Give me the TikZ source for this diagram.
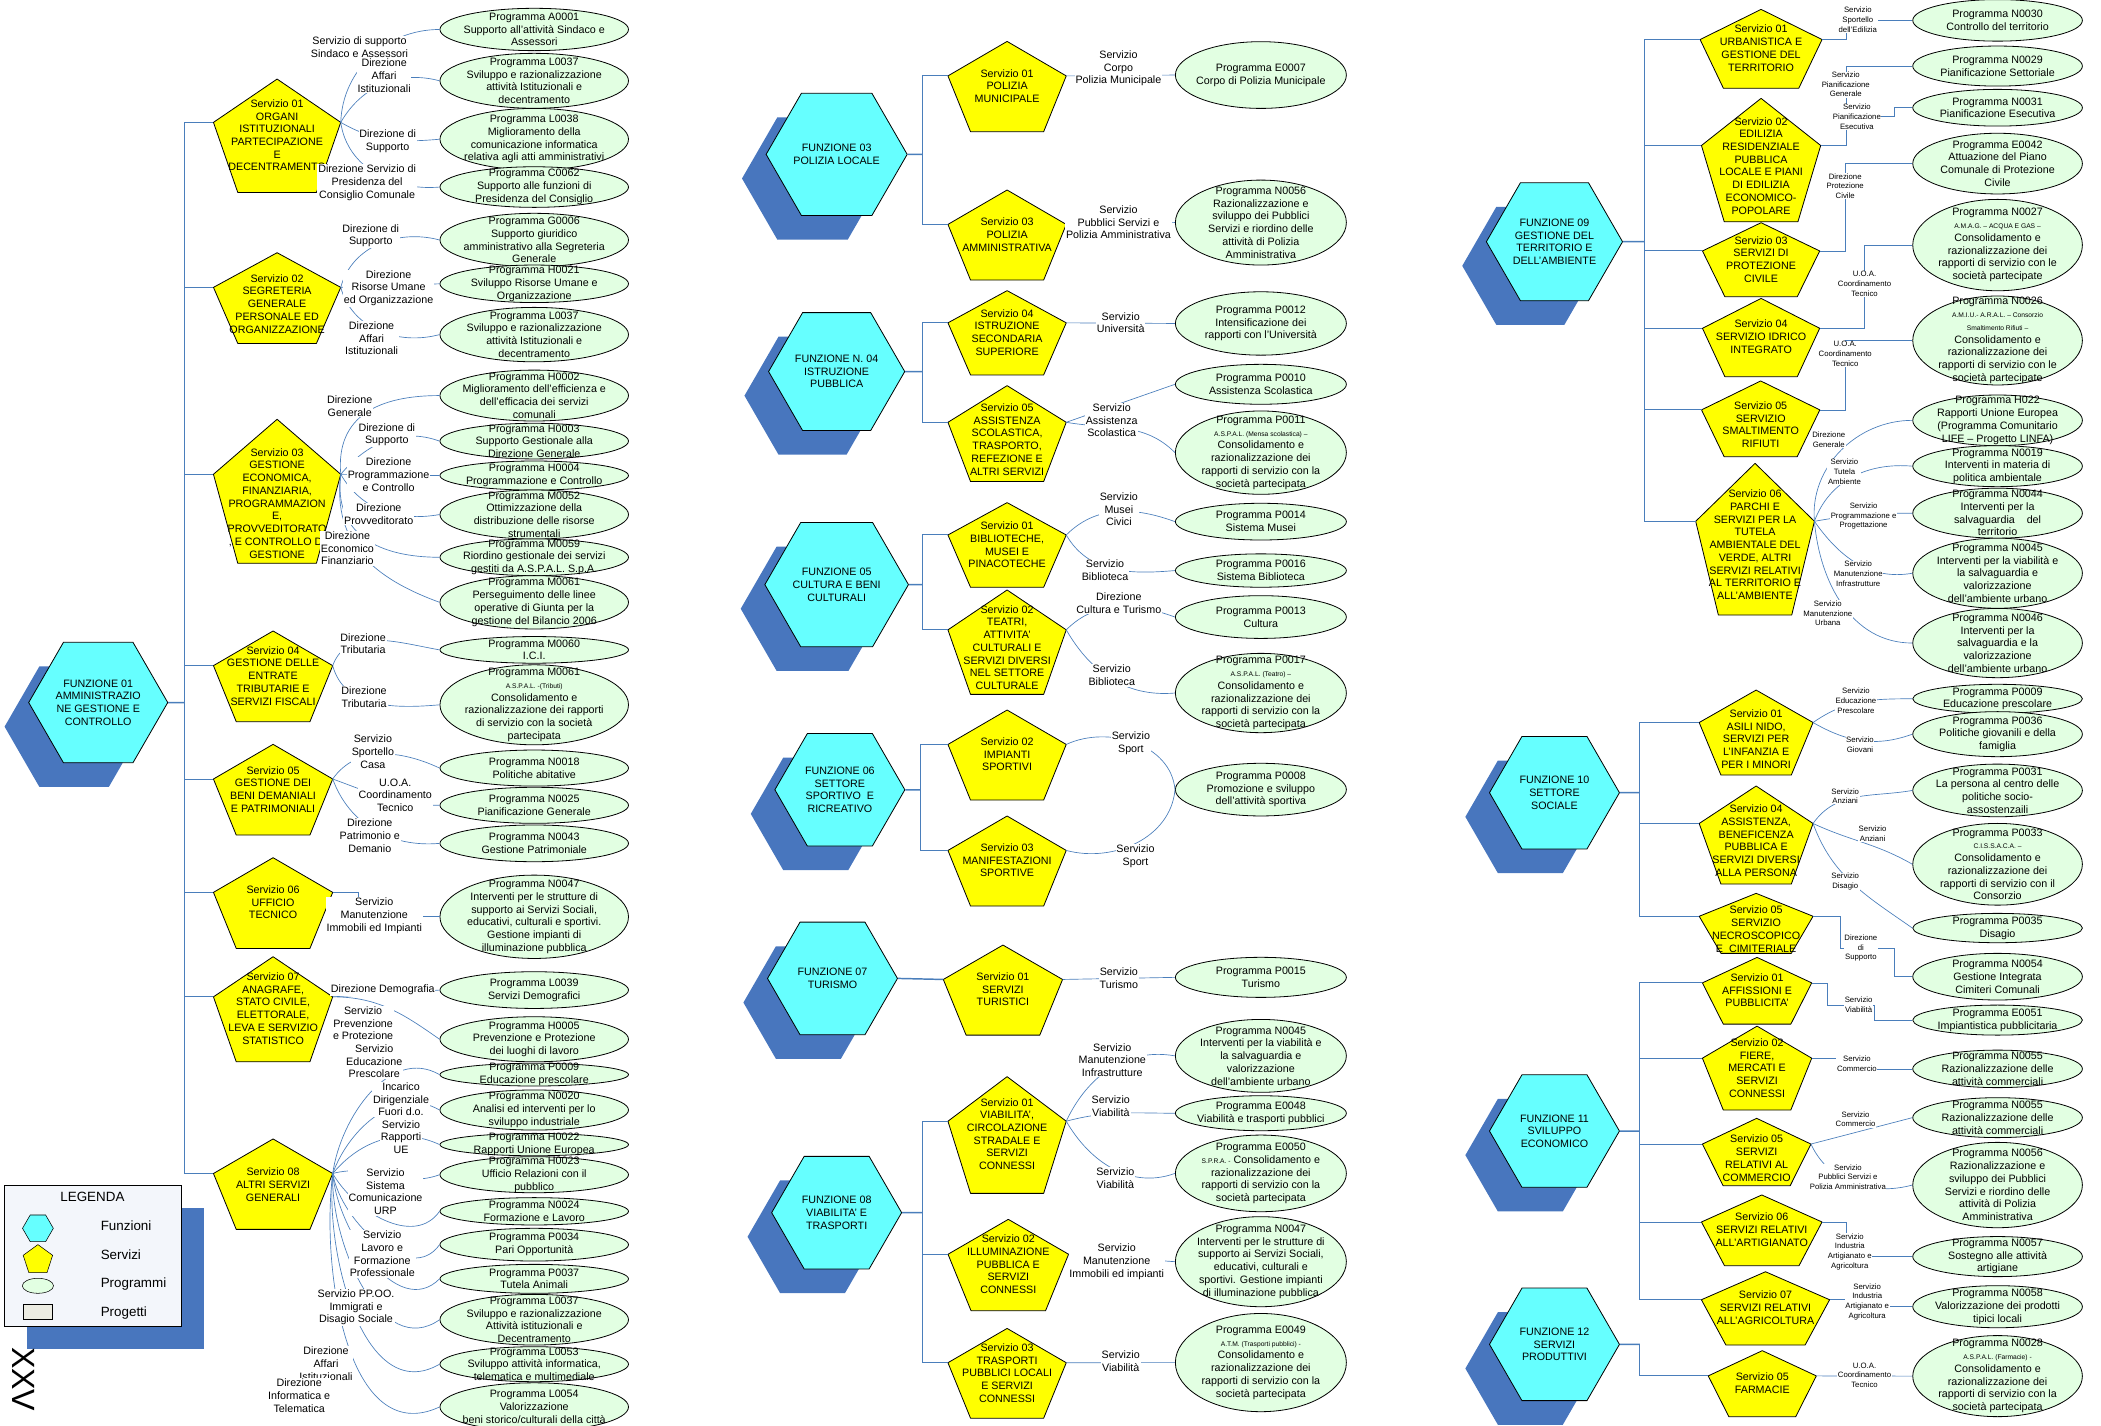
\documentclass[tikz,border=0pt]{standalone}
\usepackage{fontspec}
\setmainfont{Liberation Sans}
\usetikzlibrary{shapes.geometric,shadows}

\definecolor{giallo}{RGB}{255,255,0}
\definecolor{ciano}{RGB}{102,255,255}
\definecolor{verdino}{RGB}{226,255,226}
\definecolor{linea}{RGB}{74,126,187}
\definecolor{ombra}{RGB}{72,118,190}
\definecolor{legfondo}{RGB}{243,246,251}
\definecolor{progetto}{RGB}{236,236,226}

\newcommand{\piccolo}{\fontsize{5}{6}\selectfont}
%Shape: Pentagon (nome, x centro, y vertice, larghezza, altezza, y testo, testo)
\newcommand{\servizio}[7]{%
	\draw[servbox] (#2,#3) -- ++({#4/2},{0.382*#5}) coordinate (#1-r) -- ++({-0.191*#4},{0.618*#5}) -- ++({-0.618*#4},0) -- ++({-0.191*#4},{-0.618*#5}) coordinate (#1-l) -- cycle ;
	\node[servtext] (#1) at (#2,#6) {#7};}

\begin{document}
\begin{tikzpicture}[x=1pt,y=-1pt,
	servbox/.style={draw=black,fill=giallo,line width=0.6pt,line join=round},
	servtext/.style={align=center,inner sep=0pt,font=\fontsize{8}{9.5}\selectfont},
	funzione/.style={regular polygon,regular polygon sides=6,minimum size=97pt,inner sep=0pt,draw=black,fill=ciano,line width=0.6pt,align=center,font=\fontsize{8}{9.5}\selectfont,drop shadow={shadow xshift=-18pt,shadow yshift=-18pt,fill=ombra,opacity=1}},
	prog/.style={ellipse,draw=black,fill=verdino,line width=0.6pt,inner sep=0pt},
	progA/.style={prog,minimum width=140.7pt},
	progB/.style={prog,minimum width=127.6pt},
	progC/.style={prog,minimum width=126.6pt},
	progtext/.style={align=center,inner sep=0pt,font=\fontsize{8}{9.5}\selectfont},
	testo/.style={label={[progtext]center:{#1}}},
	dir/.style={fill=white,align=center,inner sep=0.6pt,font=\fontsize{8}{9.5}\selectfont},
	dirpic/.style={fill=white,align=center,inner sep=0.4pt,font=\fontsize{5.8}{7.2}\selectfont},
	conn/.style={draw=linea,line width=0.5pt},
	tree/.style={draw=linea,line width=0.7pt},
	hexline/.style={draw=linea,line width=1.1pt},
	legtext/.style={anchor=west,inner sep=0pt,font=\fontsize{10}{12}\selectfont},
]
\useasboundingbox (0,0) rectangle (1568,1063.5);

% ---------------- Funzioni
\node[funzione] (f01) at (73.3,524.3) {FUNZIONE 01\\AMMINISTRAZIO\\NE GESTIONE E\\CONTROLLO};
\node[funzione] (f03) at (624.4,115.2) {FUNZIONE 03\\POLIZIA LOCALE};
\node[funzione] (f04) at (624.4,277.3) {FUNZIONE N. 04\\ISTRUZIONE\\PUBBLICA};
\node[funzione] (f05) at (624.4,436.3) {FUNZIONE 05\\CULTURA E BENI\\CULTURALI};
\node[funzione] (f06) at (626.8,589.4) {FUNZIONE 06\\SETTORE\\SPORTIVO\ \ E\\RICREATIVO};
\node[funzione] (f07) at (621.3,730.2) {FUNZIONE 07\\TURISMO};
\node[funzione] (f08) at (624.4,905) {FUNZIONE 08\\VIABILITA' E\\TRASPORTI};
\node[funzione] (f09) at (1160.1,180.4) {FUNZIONE 09\\GESTIONE DEL\\TERRITORIO E\\DELL'AMBIENTE};
\node[funzione] (f10) at (1160.1,591.6) {FUNZIONE 10\\SETTORE\\SOCIALE};
\node[funzione] (f11) at (1160.1,844.1) {FUNZIONE 11\\SVILUPPO\\ECONOMICO};
\node[funzione] (f12) at (1160.1,1003.3) {FUNZIONE 12\\SERVIZI\\PRODUTTIVI};

% ---------------- Servizi
\servizio{s0101}{206.8}{59}{95}{84.6}{101}{Servizio 01\\ORGANI\\ISTITUZIONALI\\PARTECIPAZIONE\\E\\DECENTRAMENTO}
\servizio{s0102}{206.8}{188.6}{95}{67.7}{226.7}{Servizio 02\\SEGRETERIA\\GENERALE\\PERSONALE ED\\ORGANIZZAZIONE}
\servizio{s0103}{206.8}{312.9}{95}{107.5}{375.6}{Servizio 03\\GESTIONE\\ECONOMICA,\\FINANZIARIA,\\PROGRAMMAZION\\E,\\PROVVEDITORATO\\, E CONTROLLO DI\\GESTIONE}
\servizio{s0104}{203.8}{470.9}{89}{67.7}{504.3}{Servizio 04\\GESTIONE DELLE\\ENTRATE\\TRIBUTARIE E\\SERVIZI FISCALI}
\servizio{s0105}{203.8}{555.5}{89}{67.7}{589.1}{Servizio 05\\GESTIONE DEI\\BENI DEMANIALI\\E PATRIMONIALI}
\servizio{s0106}{203.8}{640.1}{89}{67.7}{673.3}{Servizio 06\\UFFICIO\\TECNICO}
\servizio{s0107}{203.8}{714}{89}{78.4}{752.6}{Servizio 07\\ANAGRAFE,\\STATO CIVILE,\\ELETTORALE,\\LEVA E SERVIZIO\\STATISTICO}
\servizio{s0108}{203.8}{850}{89}{67.5}{884}{Servizio 08\\ALTRI SERVIZI\\GENERALI}

\servizio{s0301}{751.6}{30.9}{88.3}{67.4}{64.3}{Servizio 01\\POLIZIA\\MUNICIPALE}
\servizio{s0303}{751.6}{141.8}{88.3}{67.2}{175.1}{Servizio 03\\POLIZIA\\AMMINISTRATIVA}
\servizio{s0404}{751.6}{216.9}{88.3}{62.9}{248.1}{Servizio 04\\ISTRUZIONE\\SECONDARIA\\SUPERIORE}
\servizio{s0405}{751.6}{287.8}{88.3}{71.6}{327.9}{Servizio 05\\ASSISTENZA\\SCOLASTICA,\\TRASPORTO,\\REFEZIONE E\\ALTRI SERVIZI}
\servizio{s0501}{751.6}{375.1}{88.3}{63.2}{406.6}{Servizio 01\\BIBLIOTECHE,\\MUSEI E\\PINACOTECHE}
\servizio{s0502}{751.6}{440.3}{88.3}{77.9}{483.3}{Servizio 02\\TEATRI,\\ATTIVITA'\\CULTURALI E\\SERVIZI DIVERSI\\NEL SETTORE\\CULTURALE}
\servizio{s0602}{751.6}{529.9}{88.3}{67.2}{563}{Servizio 02\\IMPIANTI\\SPORTIVI}
\servizio{s0603}{751.6}{609}{88.3}{67.2}{642.1}{Servizio 03\\MANIFESTAZIONI\\SPORTIVE}
\servizio{s0701}{748.5}{705.3}{89}{67.2}{738.3}{Servizio 01\\SERVIZI\\TURISTICI}
\servizio{s0801}{751.6}{803.5}{88.3}{87.1}{846.3}{Servizio 01\\VIABILITA',\\CIRCOLAZIONE\\STRADALE E\\SERVIZI\\CONNESSI}
\servizio{s0802}{752.5}{910}{90}{68.2}{943.6}{Servizio 02\\ILLUMINAZIONE\\PUBBLICA E\\SERVIZI\\CONNESSI}
\servizio{s0803}{751.6}{991.4}{88.3}{67}{1024.7}{Servizio 03\\TRASPORTI\\PUBBLICI LOCALI\\E SERVIZI\\CONNESSI}

\servizio{s0901}{1314.3}{7}{91}{58.9}{36}{Servizio 01\\URBANISTICA E\\GESTIONE DEL\\TERRITORIO}
\servizio{s0902}{1314.3}{73.4}{89}{92.1}{123.7}{Servizio 02\\EDILIZIA\\RESIDENZIALE\\PUBBLICA\\LOCALE E PIANI\\DI EDILIZIA\\ECONOMICO-\\POPOLARE}
\servizio{s0903}{1314.3}{166.2}{87.5}{55.2}{193.6}{Servizio 03\\SERVIZI DI\\PROTEZIONE\\CIVILE}
\servizio{s0904}{1314.3}{222.7}{87.5}{58.4}{251.2}{Servizio 04\\SERVIZIO IDRICO\\INTEGRATO}
\servizio{s0905}{1314}{284.3}{88.3}{56.5}{317}{Servizio 05\\SERVIZIO\\SMALTIMENTO\\RIFIUTI}
\servizio{s0906}{1309.8}{345.8}{88.6}{113.2}{406.5}{Servizio 06\\PARCHI E\\SERVIZI PER LA\\TUTELA\\AMBIENTALE DEL\\VERDE, ALTRI\\SERVIZI RELATIVI\\AL TERRITORIO E\\ALL'AMBIENTE}
\servizio{s1001}{1310.6}{515}{85}{63.4}{551.5}{Servizio 01\\ASILI NIDO,\\SERVIZI PER\\L'INFANZIA E\\PER I MINORI}
\servizio{s1004}{1310.6}{586.6}{85}{73.2}{627.4}{Servizio 04\\ASSISTENZA,\\BENEFICENZA\\PUBBLICA E\\SERVIZI DIVERSI\\ALLA PERSONA}
\servizio{s1005}{1310.6}{666.7}{85}{44.8}{693.4}{Servizio 05\\SERVIZIO\\NECROSCOPICO\\E\ \ CIMITERIALE}
\servizio{s1101}{1311.3}{714.5}{81.6}{49.8}{739}{Servizio 01\\AFFISSIONI E\\PUBBLICITA'}
\servizio{s1102}{1311.3}{765.8}{81.6}{62.6}{797}{Servizio 02\\FIERE,\\MERCATI E\\SERVIZI\\CONNESSI}
\servizio{s1105}{1311}{834.6}{81}{50.3}{864.4}{Servizio 05\\SERVIZI\\RELATIVI AL\\COMMERCIO}
\servizio{s1106}{1314.8}{891.8}{90}{52.8}{917.7}{Servizio 06\\SERVIZI RELATIVI\\ALL'ARTIGIANATO}
\servizio{s1107}{1317.6}{949.1}{95.7}{54.7}{975.8}{Servizio 07\\SERVIZI RELATIVI\\ALL'AGRICOLTURA}
\servizio{s1205}{1315.2}{1008}{80.7}{49.3}{1032.2}{Servizio 05\\FARMACIE}

% ---------------- Albero
\coordinate (t01) at (137.7,524.3);
\coordinate (t03) at (688.1,115.2);
\coordinate (t04) at (688.1,277.3);
\coordinate (t05) at (688.1,436.3);
\coordinate (t06) at (686.7,589.4);
\coordinate (t08) at (688.1,905);
\coordinate (t09) at (1227.5,180.4);
\coordinate (t10) at (1223.8,591.6);
\coordinate (t11) at (1223.8,844.1);
\coordinate (t12) at (1223.8,1003.3);
\foreach \f/\t in {f01/t01,f03/t03,f04/t04,f05/t05,f06/t06,f08/t08,f09/t09,f10/t10,f11/t11,f12/t12}
	\draw[hexline] (\f.east) -- (\t);
\draw[hexline] (f07.east) -- (s0701-l);
\foreach \s in {s0101,s0102,s0103,s0104,s0105,s0106,s0107,s0108}
	\draw[tree] (t01) |- (\s-l);
\foreach \s in {s0301,s0303} \draw[tree] (t03) |- (\s-l);
\foreach \s in {s0404,s0405} \draw[tree] (t04) |- (\s-l);
\foreach \s in {s0501,s0502} \draw[tree] (t05) |- (\s-l);
\foreach \s in {s0602,s0603} \draw[tree] (t06) |- (\s-l);
\foreach \s in {s0801,s0802,s0803} \draw[tree] (t08) |- (\s-l);
\foreach \s in {s0901,s0902,s0903,s0904,s0905,s0906} \draw[tree] (t09) |- (\s-l);
\foreach \s in {s1001,s1004,s1005} \draw[tree] (t10) |- (\s-l);
\foreach \s in {s1101,s1102,s1105,s1106,s1107} \draw[tree] (t11) |- (\s-l);
\draw[tree] (t12) |- (s1205-l);

% ---------------- Programmi (colonna 1)
\node[progA,minimum height=31.6pt,testo={Programma A0001\\Supporto all'attività Sindaco e\\Assessori}] (pA0001) at (398.7,22) {};
\node[progA,minimum height=41pt,testo={Programma L0037\\Sviluppo e razionalizzazione\\attività Istituzionali e\\decentramento}] (pL0037a) at (398.7,60.3) {};
\node[progA,minimum height=46pt,testo={Programma L0038\\Miglioramento della\\comunicazione informatica\\relativa agli atti amministrativi}] (pL0038) at (398.7,103.9) {};
\node[progA,minimum height=30.3pt,testo={Programma C0062\\Supporto alle funzioni di\\Presidenza del Consiglio}] (pC0062) at (398.7,139.6) {};
\node[progA,minimum height=39.8pt,testo={Programma G0006\\Supporto giuridico\\amministrativo alla Segreteria\\Generale}] (pG0006) at (398.7,179.1) {};
\node[progA,minimum height=28pt,testo={Programma H0021\\Sviluppo Risorse Umane e\\Organizzazione}] (pH0021) at (398.7,211.8) {};
\node[progA,minimum height=40.6pt,testo={Programma L0037\\Sviluppo e razionalizzazione\\attività Istituzionali e\\decentramento}] (pL0037b) at (398.7,249.7) {};
\node[progA,minimum height=38pt,testo={Programma H0002\\Miglioramento dell'efficienza e\\dell'efficacia dei servizi\\comunali}] (pH0002) at (398.7,295.2) {};
\node[progA,minimum height=26.6pt,testo={Programma H0003\\Supporto Gestionale alla\\Direzione Generale}] (pH0003) at (398.7,329.2) {};
\node[progA,minimum height=21.7pt,testo={Programma H0004\\Programmazione e Controllo}] (pH0004) at (398.7,354.9) {};
\node[progA,minimum height=36.6pt,testo={Programma M0052\\Ottimizzazione della\\distribuzione delle risorse\\strumentali}] (pM0052) at (398.7,384) {};
\node[progA,minimum height=27.4pt,testo={Programma M0059\\Riordino gestionale dei servizi\\gestiti da A.S.P.A.L. S.p.A.}] (pM0059) at (398.7,415.9) {};
\node[progA,minimum height=39.8pt,testo={Programma M0061\\Perseguimento delle linee\\operative di Giunta per la\\gestione del Bilancio 2006}] (pM0061a) at (398.7,449.5) {};
\node[progA,minimum height=19.9pt,testo={Programma M0060\\I.C.I.}] (pM0060) at (398.7,485) {};
\node[progA,minimum height=59.7pt,testo={Programma M0061\\{\piccolo A.S.P.A.L. -(Tributi)}\\Consolidamento e\\razionalizzazione dei rapporti\\di servizio con la società\\partecipata}] (pM0061b) at (398.7,526) {};
\node[progA,minimum height=26.9pt,testo={Programma N0018\\Politiche abitative}] (pN0018) at (398.7,573.2) {};
\node[progA,minimum height=26.9pt,testo={Programma N0025\\Pianificazione Generale}] (pN0025) at (398.7,601) {};
\node[progA,minimum height=27.4pt,testo={Programma N0043\\Gestione Patrimoniale}] (pN0043) at (398.7,629.4) {};
\node[progA,minimum height=62.2pt,testo={Programma N0047\\Interventi per le strutture di\\supporto ai Servizi Sociali,\\educativi, culturali e sportivi.\\Gestione impianti di\\illuminazione pubblica}] (pN0047a) at (398.7,684.2) {};
\node[progA,minimum height=27.4pt,testo={Programma L0039\\Servizi Demografici}] (pL0039) at (398.7,738.9) {};
\node[progA,minimum height=33.6pt,testo={Programma H0005\\Prevenzione e Protezione\\dei luoghi di lavoro}] (pH0005) at (398.7,775.6) {};
\node[progA,minimum height=17pt,testo={Programma P0009\\Educazione prescolare}] (pP0009a) at (398.7,802) {};
\node[progA,minimum height=29.9pt,testo={Programma N0020\\Analisi ed interventi per lo\\sviluppo industriale}] (pN0020) at (398.7,828.4) {};
\node[progA,minimum height=16.7pt,testo={Programma H0022\\Rapporti Unione Europea}] (pH0022) at (398.7,854.2) {};
\node[progA,minimum height=26.9pt,testo={Programma H0023\\Ufficio Relazioni con il\\pubblico}] (pH0023) at (398.7,876.7) {};
\node[progA,minimum height=20.4pt,testo={Programma N0024\\Formazione e Lavoro}] (pN0024) at (398.7,904) {};
\node[progA,minimum height=24.4pt,testo={Programma P0034\\Pari Opportunità}] (pP0034) at (398.7,928.9) {};
\node[progA,minimum height=21.6pt,testo={Programma P0037\\Tutela Animali}] (pP0037) at (398.7,954.4) {};
\node[progA,minimum height=37.8pt,testo={Programma L0037\\Sviluppo e razionalizzazione\\Attività istituzionali e\\Decentramento}] (pL0037c) at (398.7,984.9) {};
\node[progA,minimum height=26.1pt,testo={Programma L0053\\Sviluppo attività informatica,\\telematica e multimediale}] (pL0053) at (398.7,1018.1) {};
\node[progA,minimum height=36pt,testo={Programma L0054\\Valorizzazione\\beni storico/culturali della città}] (pL0054) at (398.7,1050) {};

% ---------------- Programmi (colonna 2)
\node[progB,minimum height=49.8pt,testo={Programma E0007\\Corpo di Polizia Municipale}] (pE0007) at (941,56) {};
\node[progB,minimum height=63.4pt,testo={Programma N0056\\Razionalizzazione e\\sviluppo dei Pubblici\\Servizi e riordino delle\\attività di Polizia\\Amministrativa}] (pN0056a) at (941,166.1) {};
\node[progB,minimum height=47.3pt,testo={Programma P0012\\Intensificazione dei\\rapporti con l'Università}] (pP0012) at (941,241.4) {};
\node[progB,minimum height=29.8pt,testo={Programma P0010\\Assistenza Scolastica}] (pP0010) at (941,286.8) {};
\node[progB,minimum height=62.2pt,testo={Programma P0011\\{\piccolo A.S.P.A.L. (Mensa scolastica) –}\\Consolidamento e\\razionalizzazione dei\\rapporti di servizio con la\\società partecipata}] (pP0011) at (941,337.8) {};
\node[progB,minimum height=27.4pt,testo={Programma P0014\\Sistema Musei}] (pP0014) at (941,389.3) {};
\node[progB,minimum height=24.9pt,testo={Programma P0016\\Sistema Biblioteca}] (pP0016) at (941,425.8) {};
\node[progB,minimum height=31.9pt,testo={Programma P0013\\Cultura}] (pP0013) at (941,460.5) {};
\node[progB,minimum height=59.2pt,testo={Programma P0017\\{\piccolo A.S.P.A.L. (Teatro) –}\\Consolidamento e\\razionalizzazione dei\\rapporti di servizio con la\\società partecipata}] (pP0017) at (941,517.2) {};
\node[progB,minimum height=39.3pt,testo={Programma P0008\\Promozione e sviluppo\\dell'attività sportiva}] (pP0008) at (941,589.3) {};
\node[progB,minimum height=29.9pt,testo={Programma P0015\\Turismo}] (pP0015) at (941,729.4) {};
\node[progB,minimum height=54.4pt,testo={Programma N0045\\Interventi per la viabilità e\\la salvaguardia e\\valorizzazione\\dell'ambiente urbano}] (pN0045b) at (941,788) {};
\node[progB,minimum height=26.1pt,testo={Programma E0048\\Viabilità e trasporti pubblici}] (pE0048) at (941,830.8) {};
\node[progB,minimum height=57.2pt,testo={Programma E0050\\{\piccolo S.P.R.A. -} Consolidamento e\\razionalizzazione dei\\rapporti di servizio con la\\società partecipata}] (pE0050) at (941,875.7) {};
\node[progB,minimum height=67.2pt,testo={Programma N0047\\Interventi per le strutture di\\supporto ai Servizi Sociali,\\educativi, culturali e\\sportivi. Gestione impianti\\di illuminazione pubblica}] (pN0047b) at (941,941.6) {};
\node[progB,minimum height=73.3pt,testo={Programma E0049\\{\piccolo A.T.M. (Trasporti pubblici) -}\\Consolidamento e\\razionalizzazione dei\\rapporti di servizio con la\\società partecipata}] (pE0049) at (941,1016.9) {};

% ---------------- Programmi (colonna 3)
\node[progC,minimum height=31pt,testo={Programma N0030\\Controllo del territorio}] (pN0030) at (1490.8,15.2) {};
\node[progC,minimum height=29.9pt,testo={Programma N0029\\Pianificazione Settoriale}] (pN0029) at (1490.8,49.3) {};
\node[progC,minimum height=27.4pt,testo={Programma N0031\\Pianificazione Esecutiva}] (pN0031) at (1490.8,80.4) {};
\node[progC,minimum height=45.3pt,testo={Programma E0042\\Attuazione del Piano\\Comunale di Protezione\\Civile}] (pE0042) at (1490.8,122.1) {};
\node[progC,minimum height=68.2pt,testo={Programma N0027\\{\piccolo A.M.A.G. – ACQUA E GAS –}\\Consolidamento e\\razionalizzazione dei\\rapporti di servizio con le\\società partecipate}] (pN0027) at (1490.8,182.9) {};
\node[progC,minimum height=66.4pt,testo={Programma N0026\\{\piccolo A.M.I.U.- A.R.A.L. – Consorzio}\\{\piccolo Smaltimento Rifiuti –}\\Consolidamento e\\razionalizzazione dei\\rapporti di servizio con le\\società partecipate}] (pN0026) at (1490.8,254.1) {};
\node[progC,minimum height=37.8pt,testo={Programma H022\\Rapporti Unione Europea\\(Programma Comunitario\\LIFE – Progetto LINFA)}] (pH022) at (1490.8,313.7) {};
\node[progC,minimum height=30.6pt,testo={Programma N0019\\Interventi in materia di\\politica ambientale}] (pN0019) at (1490.8,347.9) {};
\node[progC,minimum height=37.3pt,testo={Programma N0044\\Interventi per la\\salvaguardia\ \ \ \ del\\territorio}] (pN0044) at (1490.8,383) {};
\node[progC,minimum height=52.3pt,testo={Programma N0045\\Interventi per la viabilità e\\la salvaguardia e\\valorizzazione\\dell'ambiente urbano}] (pN0045c) at (1490.8,427.8) {};
\node[progC,minimum height=51.7pt,testo={Programma N0046\\Interventi per la\\salvaguardia e la\\valorizzazione\\dell'ambiente urbano}] (pN0046) at (1490.8,479.9) {};
\node[progC,minimum height=21.6pt,testo={Programma P0009\\Educazione prescolare}] (pP0009b) at (1490.8,521.5) {};
\node[progC,minimum height=33.6pt,testo={Programma P0036\\Politiche giovanili e della\\famiglia}] (pP0036) at (1490.8,547.9) {};
\node[progC,minimum height=39.3pt,testo={Programma P0031\\La persona al centro delle\\politiche socio-\\assostenzaili}] (pP0031) at (1490.8,589.9) {};
\node[progC,minimum height=61pt,testo={Programma P0033\\{\piccolo C.I.S.S.A.C.A. –}\\Consolidamento e\\razionalizzazione dei\\rapporti di servizio con il\\Consorzio}] (pP0033) at (1490.8,645) {};
\node[progC,minimum height=21.9pt,testo={Programma P0035\\Disagio}] (pP0035) at (1490.8,692.6) {};
\node[progC,minimum height=34.8pt,testo={Programma N0054\\Gestione Integrata\\Cimiteri Comunali}] (pN0054) at (1490.8,728.9) {};
\node[progC,minimum height=22.4pt,testo={Programma E0051\\Impiantistica pubblicitaria}] (pE0051) at (1490.8,761.3) {};
\node[progC,minimum height=28pt,testo={Programma N0055\\Razionalizzazione delle\\attività commerciali}] (pN0055a) at (1490.8,797.7) {};
\node[progC,minimum height=29.8pt,testo={Programma N0055\\Razionalizzazione delle\\attività commerciali}] (pN0055b) at (1490.8,834.1) {};
\node[progC,minimum height=63.7pt,testo={Programma N0056\\Razionalizzazione e\\sviluppo dei Pubblici\\Servizi e riordino delle\\attività di Polizia\\Amministrativa}] (pN0056b) at (1490.8,884.4) {};
\node[progC,minimum height=29.9pt,testo={Programma N0057\\Sostegno alle attività\\artigiane}] (pN0057) at (1490.8,937.8) {};
\node[progC,minimum height=31.4pt,testo={Programma N0058\\Valorizzazione dei prodotti\\tipici locali}] (pN0058) at (1490.8,975.2) {};
\node[progC,minimum height=60.5pt,testo={Programma N0028\\{\piccolo A.S.P.A.L. (Farmacie) -}\\Consolidamento e\\razionalizzazione dei\\rapporti di servizio con la\\società partecipata}] (pN0028) at (1490.8,1027) {};

% ---------------- Collegamenti (colonna 1)
\draw[conn] (s0101-r) to[out=88,in=180] (pA0001.west);
\draw[conn] (s0101-r) to[out=60,in=165] (pL0037a.west);
\draw[conn] (s0101-r) to[out=-30,in=185] (pL0038.west);
\draw[conn] (s0101-r) to[out=-82,in=185] (pC0062.west);
\draw[conn] (s0102-r) to[out=75,in=165] (pG0006.west);
\draw[conn] (s0102-r) -- (pH0021.west);
\draw[conn] (s0102-r) to[out=-75,in=195] (pL0037b.west);
\draw[conn] (s0103-r) to[out=95,in=180,looseness=1.2] (pH0002.west);
\draw[conn] (s0103-r) to[out=50,in=160] (pH0003.west);
\draw[conn] (s0103-r) -- (pH0004.west);
\draw[conn] (s0103-r) to[out=-60,in=190] (pM0052.west);
\draw[conn] (s0103-r) to[out=-97,in=180,looseness=1.2] (pM0059.west);
\draw[conn] (s0103-r) to[out=-97,in=160,looseness=1.1] (pM0061a.west);
\draw[conn] (s0104-r) to[out=70,in=170] (pM0060.west);
\draw[conn] (s0104-r) to[out=-75,in=185] (pM0061b.west);
\draw[conn] (s0105-r) to[out=55,in=155] (pN0018.west);
\draw[conn] (s0105-r) to[out=-20,in=180] (pN0025.west);
\draw[conn] (s0105-r) to[out=-70,in=185] (pN0043.west);
\draw[conn] (s0106-r) -- ++(19.4,0) |- (pN0047a.west);
\draw[conn] (s0107-r) -- (pL0039.west);
\draw[conn] (s0107-r) to[out=0,in=145] (pH0005.west);
\draw[conn] (s0108-r) to[out=82,in=150] (pP0009a.west);
\draw[conn] (s0108-r) to[out=70,in=150] (pN0020.west);
\draw[conn] (s0108-r) to[out=50,in=155] (pH0022.west);
\draw[conn] (s0108-r) to[out=15,in=200] (pH0023.west);
\draw[conn] (s0108-r) to[out=-60,in=235] (pN0024.west);
\draw[conn] (s0108-r) to[out=-80,in=235] (pP0034.west);
\draw[conn] (s0108-r) to[out=-85,in=225] (pP0037.west);
\draw[conn] (s0108-r) to[out=-92,in=215] (pL0037c.west);
\draw[conn] (s0108-r) to[out=-95,in=210] (pL0053.west);
\draw[conn] (s0108-r) to[out=-97,in=205] (pL0054.west);

% ---------------- Collegamenti (colonna 2)
\draw[conn] (s0301-r) -- (pE0007.west);
\draw[conn] (s0303-r) -- (pN0056a.west);
\draw[conn] (s0404-r) -- (pP0012.west);
\draw[conn] (s0405-r) -- (pP0010.west);
\draw[conn] (s0405-r) to[out=-10,in=135] (pP0011.west);
\draw[conn] (s0501-r) to[out=45,in=160] (pP0014.west);
\draw[conn] (s0501-r) to[out=-60,in=185] (pP0016.west);
\draw[conn] (s0502-r) to[out=45,in=160] (pP0013.west);
\draw[conn] (s0502-r) to[out=-60,in=185] (pP0017.west);
\draw[conn] (s0602-r) to[out=25,in=95] (pP0008.west);
\draw[conn] (s0603-r) to[out=-15,in=-95] (pP0008.west);
\draw[conn] (s0701-r) -- (pP0015.west);
\draw[conn] (s0801-r) to[out=65,in=170] (pN0045b.west);
\draw[conn] (s0801-r) to[out=15,in=180] (pE0048.west);
\draw[conn] (s0801-r) to[out=-60,in=200] (pE0050.west);
\draw[conn] (s0802-r) -- (pN0047b.west);
\draw[conn] (s0803-r) -- (pE0049.west);

% ---------------- Collegamenti (colonna 3)
\draw[conn] (s0901-r) -- ++(18.3,0) |- (pN0030.west);
\draw[conn] (s0902-r) -- ++(19.3,0) |- (pN0029.west);
\draw[conn] (s0902-r) -| (1378.1,87.1) -| (1414.1,80.4) -- (pN0031.west);
\draw[conn] (s0903-r) -- ++(18.8,0) |- (pE0042.west);
\draw[conn] (s0904-r) -- ++(33.4,0) |- (pN0027.west);
\draw[conn] (s0905-r) -- ++(18.8,0) |- (pN0026.west);
\draw[conn] (s0906-r) to[out=95,in=180] (pH022.west);
\draw[conn] (s0906-r) to[out=70,in=175] (pN0019.west);
\draw[conn] (s0906-r) to[out=10,in=180] (pN0044.west);
\draw[conn] (s0906-r) to[out=-55,in=190] (pN0045c.west);
\draw[conn] (s0906-r) to[out=-85,in=180] (pN0046.west);
\draw[conn] (s1001-r) to[out=35,in=180] (pP0009b.west);
\draw[conn] (s1001-r) to[out=-30,in=200] (pP0036.west);
\draw[conn] (s1004-r) to[out=55,in=190] (pP0031.west);
\draw[conn] (s1004-r) to[out=-25,in=150] (pP0033.west);
\draw[conn] (s1004-r) to[out=-70,in=145] (pP0035.west);
\draw[conn] (s1005-r) -| (1373.1,707.8) -| (1414.1,728.9) -- (pN0054.west);
\draw[conn] (s1101-r) -| (1364.1,750) -| (1398.8,761.3) -- (pE0051.west);
\draw[conn] (s1102-r) -| (1372,797.7) -- (pN0055a.west);
\draw[conn] (s1105-r) -- (pN0055b.west);
\draw[conn] (s1105-r) to[out=-65,in=195] (pN0056b.west);
\draw[conn] (s1106-r) -- ++(18.3,0) |- (pN0057.west);
\draw[conn] (s1107-r) -- ++(12.6,0) |- (pN0058.west);
\draw[conn] (s1205-r) -- (pN0028.west);

% ---------------- Text Node (colonna 1)
\node[dir] (d0101a) at (268.3,35.3) {Servizio di supporto\\Sindaco e Assessori};
\node[dir] (d0101b) at (286.7,56.5) {Direzione\\Affari\\Istituzionali};
\node[dir] (d0101c) at (289.3,105.2) {Direzione di\\Supporto};
\node[dir] (d0101d) at (274,136.3) {Direzione Servizio di\\Presidenza del\\Consiglio Comunale};
\node[dir] (d0102a) at (276.7,176) {Direzione di\\Supporto};
\node[dir] (d0102b) at (290,215) {Direzione\\Risorse Umane\\ed Organizzazione};
\node[dir] (d0102c) at (277.3,252.5) {Direzione\\Affari\\Istituzionali};
\node[dir] (d0103a) at (261,302.9) {Direzione\\Generale};
\node[dir] (d0103b) at (288.7,324.4) {Direzione di\\Supporto};
\node[dir] (d0103c) at (290,354.4) {Direzione\\Programmazione\\e Controllo};
\node[dir] (d0103d) at (282.7,383.8) {Direzione\\Provveditorato};
\node[dir] (d0103e) at (259.3,409.1) {Direzione\\Economico\\Finanziario};
\node[dir] (d0104a) at (271,480.4) {Direzione\\Tributaria};
\node[dir] (d0104b) at (271.7,520.3) {Direzione\\Tributaria};
\node[dir] (d0105a) at (278.3,560.9) {Servizio\\Sportello\\Casa};
\node[dir] (d0105b) at (295,593.4) {U.O.A.\\Coordinamento\\Tecnico};
\node[dir] (d0105c) at (276,623.6) {Direzione\\Patrimonio e\\Demanio};
\node[dir] (d0106a) at (279.3,683.4) {Servizio\\Manutenzione\\Immobili ed Impianti};
\node[dir] (d0107a) at (285.7,738.9) {Direzione Demografia};
\node[dir] (d0107b) at (271,763.6) {Servizio\\Prevenzione\\e Protezione};
\node[dir] (d0108a) at (279.3,792) {Servizio\\Educazione\\Prescolare};
\node[dir] (d0108b) at (299.3,820.5) {Incarico\\Dirigenziale\\Fuori d.o.};
\node[dir] (d0108c) at (299.3,848.6) {Servizio\\Rapporti\\UE};
\node[dir] (d0108d) at (287.7,889.4) {Servizio\\Sistema\\Comunicazione\\URP};
\node[dir] (d0108e) at (285.3,935.8) {Servizio\\Lavoro e\\Formazione\\Professionale};
\node[dir] (d0108f) at (265.7,975.7) {Servizio PP.OO.\\Immigrati e\\Disagio Sociale};
\node[dir] (d0108g) at (243.3,1017.6) {Direzione\\Affari\\Istituzionali};
\node[dir] (d0108h) at (223.3,1041.7) {Direzione\\Informatica e\\Telematica};

% ---------------- Text Node (colonna 2)
\node[dir] (d0301) at (834.7,51.1) {Servizio\\Corpo\\Polizia Municipale};
\node[dir] (d0303) at (834.7,165.9) {Servizio\\Pubblici Servizi e\\Polizia Amministrativa};
\node[dir] (d0404) at (836.4,240.9) {Servizio\\Università};
\node[dir] (d0405) at (829.7,313.7) {Servizio\\Assistenza\\Scolastica};
\node[dir] (d0501a) at (835,380.1) {Servizio\\Musei\\Civici};
\node[dir] (d0501b) at (824.7,425.3) {Servizio\\Biblioteca};
\node[dir] (d0502a) at (835,449.9) {Direzione\\Cultura e Turismo};
\node[dir] (d0502b) at (829.7,504.1) {Servizio\\Biblioteca};
\node[dir] (d0602) at (844,554.6) {Servizio\\Sport};
\node[dir] (d0603) at (847.4,638.8) {Servizio\\Sport};
\node[dir] (d0701) at (835,729.9) {Servizio\\Turismo};
\node[dir] (d0801a) at (830.1,791) {Servizio\\Manutenzione\\Infrastrutture};
\node[dir] (d0801b) at (829,825.3) {Servizio\\Viabilità};
\node[dir] (d0801c) at (832.4,879) {Servizio\\Viabilità};
\node[dir] (d0802) at (833.4,941.7) {Servizio\\Manutenzione\\Immobili ed impianti};
\node[dir] (d0803) at (836.4,1016) {Servizio\\Viabilità};

% ---------------- Text Node (colonna 3)
\node[dirpic] (d0901) at (1386.5,14.8) {Servizio\\Sportello\\dell'Edilizia};
\node[dirpic] (d0902a) at (1377.5,63.1) {Servizio\\Pianificazione\\Generale};
\node[dirpic] (d0902b) at (1385.8,87) {Servizio\\Pianificazione\\Esecutiva};
\node[dirpic] (d0903) at (1377.1,138.8) {Direzione\\Protezione\\Civile};
\node[dirpic] (d0904) at (1391.5,211.8) {U.O.A.\\Coordinamento\\Tecnico};
\node[dirpic] (d0905) at (1377.1,264) {U.O.A.\\Coordinamento\\Tecnico};
\node[dirpic] (d0906a) at (1364.8,328.4) {Direzione\\Generale};
\node[dirpic] (d0906b) at (1376.5,352) {Servizio\\Tutela\\Ambiente};
\node[dirpic] (d0906c) at (1390.8,385.1) {Servizio\\Programmazione e\\Progettazione};
\node[dirpic] (d0906d) at (1386.8,428.2) {Servizio\\Manutenzione\\Infrastrutture};
\node[dirpic] (d0906e) at (1364.1,457.7) {Servizio\\Manutenzione\\Urbana};
\node[dirpic] (d1001a) at (1385.1,523) {Servizio\\Educazione\\Prescolare};
\node[dirpic] (d1001b) at (1388.1,555.6) {Servizio\\Giovani};
\node[dirpic] (d1004a) at (1377.1,594.1) {Servizio\\Anziani};
\node[dirpic] (d1004b) at (1397.5,622.2) {Servizio\\Anziani};
\node[dirpic] (d1004c) at (1377.1,658) {Servizio\\Disagio};
\node[dirpic] (d1005) at (1388.8,707.5) {Direzione\\di\\Supporto};
\node[dirpic] (d1101) at (1387.1,749.9) {Servizio\\Viabilità};
\node[dirpic] (d1102) at (1385.8,793.9) {Servizio\\Commercio};
\node[dirpic] (d1105a) at (1384.8,835.4) {Servizio\\Commercio};
\node[dirpic] (d1105b) at (1379.1,878.4) {Servizio\\Pubblici Servizi e\\Polizia Amministrativa};
\node[dirpic] (d1106) at (1380.5,934.2) {Servizio\\Industria\\Artigianato e\\Agricoltura};
\node[dirpic] (d1107) at (1393.5,971.4) {Servizio\\Industria\\Artigianato e\\Agricoltura};
\node[dirpic] (d1205) at (1391.5,1026.2) {U.O.A.\\Coordinamento\\Tecnico};

% ---------------- Legenda
\node[draw=black,fill=legfondo,line width=0.6pt,minimum width=132.4pt,minimum height=105.7pt,inner sep=0pt,drop shadow={shadow xshift=16.8pt,shadow yshift=-16.9pt,fill=ombra,opacity=1}] (legenda) at (69.5,937.3) {};
\node[inner sep=0pt,font=\fontsize{10}{12}\selectfont] (legtitolo) at (69,893.1) {LEGENDA};
\node[regular polygon,regular polygon sides=6,minimum size=23pt,inner sep=0pt,draw=black,fill=ciano] (legf) at (28.3,916.7) {};
\node[regular polygon,regular polygon sides=5,minimum size=23.1pt,inner sep=0pt,draw=black,fill=giallo] (legs) at (28.3,940.4) {};
\node[ellipse,minimum width=23.3pt,minimum height=11.2pt,inner sep=0pt,draw=black,fill=verdino] (legp) at (28.3,959.6) {};
\node[rectangle,minimum width=21.4pt,minimum height=11.2pt,inner sep=0pt,draw=black,fill=progetto] (legg) at (28,979) {};
\node[legtext] (legft) at (75,914.7) {Funzioni};
\node[legtext] (legst) at (75,936.1) {Servizi};
\node[legtext] (legpt) at (75,958.5) {Programmi};
\node[legtext] (leggt) at (75,980.2) {Progetti};

% Text Node
\node[rotate=-90,inner sep=0pt,font=\fontsize{24}{24}\selectfont] (pagina) at (17.5,1029.3) {XXV};

\end{tikzpicture}
\end{document}
